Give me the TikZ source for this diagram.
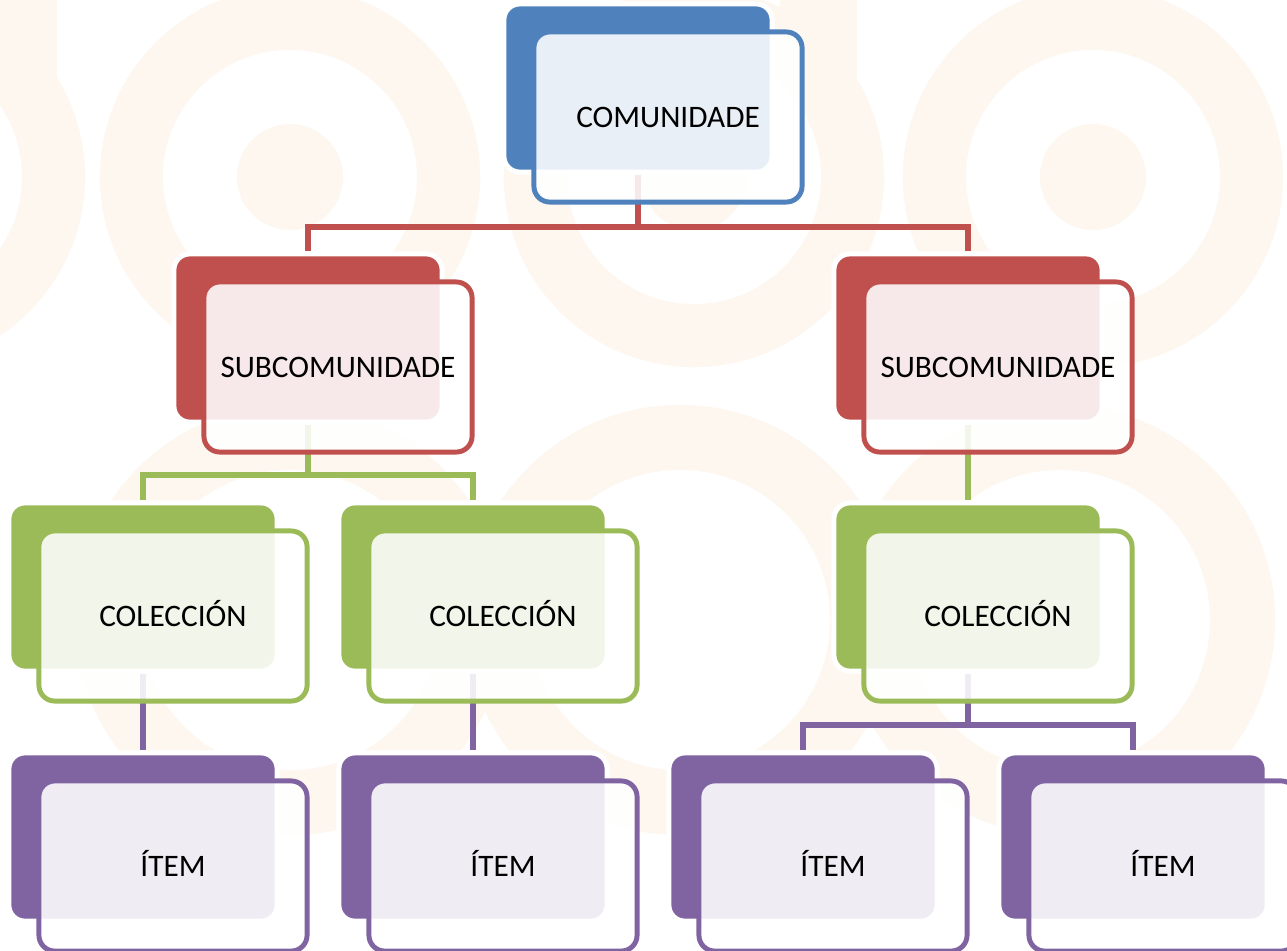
\documentclass[tikz,border=0pt]{standalone}
\usepackage{fontspec}
\setmainfont{Carlito}
\usepackage{xcolor}
\usepackage{tikz}
\usetikzlibrary{calc}
\definecolor{comColor}{HTML}{4F81BD}
\definecolor{subColor}{HTML}{C0504D}
\definecolor{colColor}{HTML}{9BBB59}
\definecolor{itemColor}{HTML}{8064A2}
\definecolor{markColor}{HTML}{FEF7F0}
\pgfdeclarelayer{marks}
\pgfdeclarelayer{links}
\pgfsetlayers{marks,links,main}

\begin{document}
\begin{tikzpicture}[x=0.01cm, y=-0.01cm,
    backbox/.style={draw=white, line width=1.4pt, fill=#1, rounded corners=4.5pt,
        minimum width=2.68cm, minimum height=1.68cm, inner sep=0pt},
    frontbox/.style={draw=#1, line width=1.4pt, fill=white, fill opacity=0.88,
        text opacity=1, rounded corners=4.5pt, minimum width=2.68cm,
        minimum height=1.7cm, inner sep=0pt, text height=5.73pt, text depth=0pt,
        font=\fontsize{8.9}{10.7}\selectfont},
    link/.style={draw=#1, line width=1.7pt}]
    \useasboundingbox (0,0) rectangle (1287,951);

    % faint watermark behind the chart
    \begin{pgfonlayer}{marks}
        \fill[white] (0,0) rectangle (1287,951);
        \foreach \cx in {-105,290,694,1093,1490} {
            \fill[markColor, even odd rule] (\cx,177) circle (1.9cm) circle (1.27cm);
            \fill[markColor] (\cx,177) circle (0.53cm);
        }
        \foreach \cx in {290,680,1060}
            \fill[markColor, even odd rule] (\cx,620) circle (2.15cm) circle (1.5cm);
        \fill[markColor] (0,0) rectangle (57,77);
        \fill[markColor] (780,0) rectangle (857,77);
    \end{pgfonlayer}

    % boxes: coloured back card, light front card with the label
    \foreach \name/\px/\py/\col/\txt in {
        com/638/88/comColor/COMUNIDADE,
        sub1/308/338/subColor/SUBCOMUNIDADE,
        sub2/968/338/subColor/SUBCOMUNIDADE,
        col1/143/587/colColor/COLECCIÓN,
        col2/473/587/colColor/COLECCIÓN,
        col3/968/587/colColor/COLECCIÓN,
        item1/143/837/itemColor/ÍTEM,
        item2/473/837/itemColor/ÍTEM,
        item3/803/837/itemColor/ÍTEM,
        item4/1133/837/itemColor/ÍTEM} {
        \node[backbox=\col] (\name) at (\px,\py) {};
        \node[frontbox=\col] (\name-f) at ($(\name)+(30,29)$) {\txt};
    }

    % connectors
    \begin{pgfonlayer}{links}
        \coordinate (bus1) at (638,227);
        \draw[link=subColor] (com.south) -- (bus1) -| (sub1.north);
        \draw[link=subColor] (bus1) -| (sub2.north);
        \coordinate (bus2) at (308,475);
        \draw[link=colColor] (sub1.south) -- (bus2) -| (col1.north);
        \draw[link=colColor] (bus2) -| (col2.north);
        \draw[link=colColor] (sub2.south) -- (col3.north);
        \draw[link=itemColor] (col1.south) -- (item1.north);
        \draw[link=itemColor] (col2.south) -- (item2.north);
        \coordinate (bus3) at (968,725);
        \draw[link=itemColor] (col3.south) -- (bus3) -| (item3.north);
        \draw[link=itemColor] (bus3) -| (item4.north);
    \end{pgfonlayer}
\end{tikzpicture}
\end{document}
